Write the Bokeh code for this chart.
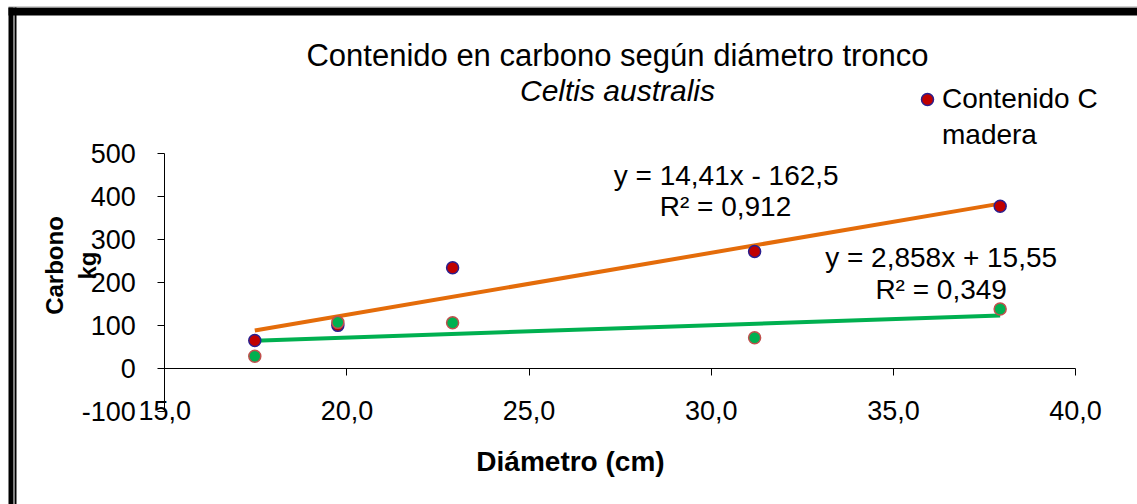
import numpy as np
from bokeh.plotting import figure
from bokeh.models import (LinearAxis, FixedTicker, Legend, LegendItem, Label,
                          BoxAnnotation, Range1d)
from bokeh.embed import file_html
from bokeh.resources import INLINE

# ---------------- data ----------------
diametro = [17.47, 19.75, 22.9, 31.19, 37.93]
carbono_madera = [66, 101, 235, 273, 378]
carbono_otro = [29, 108, 107, 72, 139]
x_ticks = [15, 20, 25, 30, 35, 40]
x_tick_labels = ["15,0", "20,0", "25,0", "30,0", "35,0", "40,0"]
y_ticks = [-100, 0, 100, 200, 300, 400, 500]
y_tick_labels = ["-100", "0", "100", "200", "300", "400", "500"]
trend_madera = [14.41, -162.5]   # slope, intercept
trend_otro = [2.858, 15.55]
eq_madera = ["y = 14,41x - 162,5", "R² = 0,912"]
eq_otro = ["y = 2,858x + 15,55", "R² = 0,349"]
legend_lines = ["Contenido C", "madera"]
title_text = "Contenido en carbono según diámetro tronco"
subtitle_text = "Celtis australis"

FONT = "Liberation Sans"
W, H = 1137, 504

# frame covers the whole canvas; axes are placed with fixed_location
p = figure(width=W, height=H, x_range=Range1d(10.49, 41.70), y_range=Range1d(-315.6, 856.5),
           output_backend="svg", toolbar_location=None, title=None,
           x_axis_type=None, y_axis_type=None, min_border=0)
p.background_fill_color = "white"
p.border_fill_color = "white"
p.outline_line_color = None

# ---------------- axes ----------------
yaxis = LinearAxis(ticker=FixedTicker(ticks=y_ticks), fixed_location=15, bounds=(-100, 500),
                   major_label_overrides=dict(zip(y_ticks, y_tick_labels)))
yaxis.axis_line_color = "black"
yaxis.major_tick_out = 7
yaxis.major_tick_in = 0
yaxis.major_label_standoff = 22
yaxis.major_label_text_font = FONT
yaxis.major_label_text_font_size = "27px"
yaxis.major_label_text_color = "black"
p.add_layout(yaxis, "left")

ylab = LinearAxis(ticker=FixedTicker(ticks=[]), fixed_location=15, bounds=(-100, 580),
                  axis_label="Carbono\nkg")
ylab.axis_line_color = None
ylab.major_tick_line_color = None
ylab.axis_label_standoff = 64
ylab.axis_label_text_font = FONT
ylab.axis_label_text_font_size = "24px"
ylab.axis_label_text_font_style = "bold"
ylab.axis_label_text_color = "black"
p.add_layout(ylab, "left")

xaxis = LinearAxis(ticker=FixedTicker(ticks=x_ticks), fixed_location=-100, bounds=(15, 40),
                   major_label_overrides=dict(zip(x_ticks, x_tick_labels)))
xaxis.axis_line_color = None
xaxis.major_tick_line_color = None
xaxis.major_tick_out = 0
xaxis.major_tick_in = 0
xaxis.major_label_standoff = -11
xaxis.major_label_text_font = FONT
xaxis.major_label_text_font_size = "27px"
xaxis.major_label_text_color = "black"
p.add_layout(xaxis, "below")

xlab = LinearAxis(ticker=FixedTicker(ticks=[]), fixed_location=-100, bounds=(15, 37.28),
                  axis_label="Diámetro (cm)")
xlab.axis_line_color = None
xlab.major_tick_line_color = None
xlab.axis_label_standoff = 34
xlab.axis_label_text_font = FONT
xlab.axis_label_text_font_size = "28px"
xlab.axis_label_text_font_style = "bold"
xlab.axis_label_text_color = "black"
p.add_layout(xlab, "below")

xline = LinearAxis(ticker=FixedTicker(ticks=x_ticks), fixed_location=0, bounds=(15, 40))
xline.axis_line_color = "black"
xline.major_tick_out = 7
xline.major_tick_in = 0
xline.major_label_text_font_size = "0px"
xline.major_label_text_color = None
p.add_layout(xline, "below")

# ---------------- trend lines ----------------
tx = np.array([min(diametro), max(diametro)])
p.line(tx, trend_madera[0] * tx + trend_madera[1], line_color="#E46C0A", line_width=4)
p.line(tx, trend_otro[0] * tx + trend_otro[1], line_color="#00B050", line_width=4)

# ---------------- points ----------------
r_m = p.scatter(diametro, carbono_madera, size=12, fill_color="#C00000",
                line_color="#2A1F8F", line_width=1.5)
p.scatter(diametro, carbono_otro, size=12, fill_color="#00B050",
          line_color="#C0504D", line_width=1.5)
# invisible renderer used only for the wrapped second legend line
r_blank = p.scatter(x=[], y=[], size=12, fill_alpha=0, line_alpha=0)

# ---------------- equations ----------------
eq_pos_madera = [(30.41, 449), (30.39, 377)]
eq_pos_otro = [(36.31, 259), (36.31, 184)]
for txt, (x, y) in zip(eq_madera + eq_otro, eq_pos_madera + eq_pos_otro):
    p.add_layout(Label(x=x, y=y, text=txt, text_align="center", text_baseline="middle",
                       text_font=FONT, text_font_size="28px", text_color="black"))

# ---------------- titles ----------------
p.add_layout(Label(x=617, y=H - 55, x_units="screen", y_units="screen", text=title_text,
                   text_align="center", text_baseline="middle", text_font=FONT,
                   text_font_size="31px", text_color="black"))
p.add_layout(Label(x=617, y=H - 90, x_units="screen", y_units="screen", text=subtitle_text,
                   text_align="center", text_baseline="middle", text_font=FONT,
                   text_font_size="30px", text_font_style="italic", text_color="black"))

# ---------------- legend ----------------
legend = Legend(items=[LegendItem(label=legend_lines[0], renderers=[r_m]),
                       LegendItem(label=legend_lines[1], renderers=[r_blank])],
                location=(912, H - 153), margin=0, padding=0, spacing=0,
                glyph_width=30, glyph_height=36, label_standoff=0,
                label_text_font=FONT, label_text_font_size="28px",
                label_text_color="black",
                border_line_color=None, background_fill_color=None)
p.add_layout(legend)

# ---------------- outer frame ----------------
for l, r, t, b, c in [(8, W, H - 7, H - 15, "black"), (8, W, H - 6, H - 7, "#A0A0A0"),
                      (8, 13, H - 7, 0, "black"), (14, 16, H - 7, 0, "black")]:
    p.add_layout(BoxAnnotation(left=l, right=r, top=t, bottom=b,
                               left_units="screen", right_units="screen",
                               top_units="screen", bottom_units="screen",
                               fill_color=c, fill_alpha=1, line_color=None))

open("out.html", "w").write(file_html(p, INLINE))
